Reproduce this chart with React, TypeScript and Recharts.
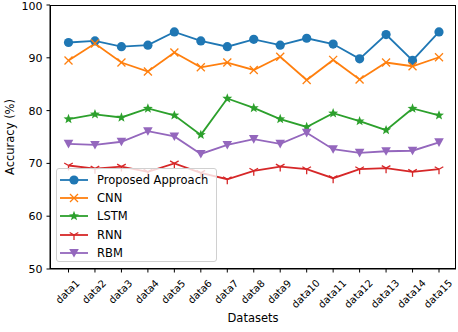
import React from "react";
import {
  LineChart,
  Line,
  XAxis,
  YAxis,
  Label,
} from "recharts";

const categories = [
  "data1", "data2", "data3", "data4", "data5", "data6", "data7", "data8",
  "data9", "data10", "data11", "data12", "data13", "data14", "data15",
];

const proposed = [92.9, 93.2, 92.1, 92.4, 94.9, 93.2, 92.1, 93.5, 92.4, 93.7, 92.6, 89.8, 94.4, 89.5, 94.9];
const cnn = [89.5, 92.7, 89.1, 87.4, 91.0, 88.2, 89.1, 87.7, 90.2, 85.8, 89.6, 85.9, 89.1, 88.4, 90.1];
const lstm = [78.4, 79.3, 78.7, 80.4, 79.1, 75.4, 82.3, 80.5, 78.4, 76.9, 79.5, 78.0, 76.3, 80.4, 79.1];
const rnn = [69.6, 69.0, 69.4, 68.4, 70.0, 68.2, 67.0, 68.6, 69.4, 68.9, 67.2, 68.9, 69.1, 68.4, 68.9];
const rbm = [73.7, 73.5, 74.1, 76.1, 75.1, 71.8, 73.5, 74.6, 73.7, 75.8, 72.7, 72.0, 72.3, 72.4, 74.0];

const yTicks = [50, 60, 70, 80, 90, 100];

type MarkerKind = "circle" | "x" | "star" | "tri" | "vtri";

const series: { key: string; name: string; color: string; marker: MarkerKind; values: number[] }[] = [
  { key: "proposed", name: "Proposed Approach", color: "#1f77b4", marker: "circle", values: proposed },
  { key: "cnn", name: "CNN", color: "#ff7f0e", marker: "x", values: cnn },
  { key: "lstm", name: "LSTM", color: "#2ca02c", marker: "star", values: lstm },
  { key: "rnn", name: "RNN", color: "#d62728", marker: "tri", values: rnn },
  { key: "rbm", name: "RBM", color: "#9467bd", marker: "vtri", values: rbm },
];

const data = categories.map((name, i) => {
  const row: Record<string, any> = { name };
  series.forEach((s) => (row[s.key] = s.values[i]));
  return row;
});

const FONT = "'DejaVu Sans', sans-serif";

// plot box (matches chart margins / axis sizes below)
const PLOT = { left: 50, top: 5, width: 406, height: 264 };

function starPoints(r1: number, r2: number) {
  const pts: string[] = [];
  for (let i = 0; i < 10; i++) {
    const r = i % 2 === 0 ? r1 : r2;
    const a = -Math.PI / 2 + (i * Math.PI) / 5;
    pts.push(`${(r * Math.cos(a)).toFixed(2)},${(r * Math.sin(a)).toFixed(2)}`);
  }
  return pts.join(" ");
}

const MarkerShape = ({ kind, color, cx, cy }: { kind: MarkerKind; color: string; cx: number; cy: number }) => {
  const t = `translate(${cx},${cy})`;
  switch (kind) {
    case "circle":
      return <circle cx={cx} cy={cy} r={4.6} fill={color} />;
    case "x":
      return (
        <g transform={t} stroke={color} strokeWidth={1.3}>
          <line x1={-4} y1={-4} x2={4} y2={4} />
          <line x1={-4} y1={4} x2={4} y2={-4} />
        </g>
      );
    case "star":
      return <polygon transform={t} points={starPoints(5.2, 2.2)} fill={color} />;
    case "tri":
      return (
        <g transform={t} stroke={color} strokeWidth={1.3}>
          <line x1={0} y1={0} x2={0} y2={5} />
          <line x1={0} y1={0} x2={-4.3} y2={-2.5} />
          <line x1={0} y1={0} x2={4.3} y2={-2.5} />
        </g>
      );
    case "vtri":
      return <polygon transform={t} points="-4.8,-4 4.8,-4 0,4.6" fill={color} />;
  }
};

const AngledTick = ({ x, y, payload }: any) => {
  const label = String(payload.value);
  const fs = 10;
  const w = label.length * fs * 0.58;
  const half = ((w + fs * 1.1) * 0.7071) / 2;
  return (
    <text
      transform={`translate(${x - 1},${y + 3 + half}) rotate(-45)`}
      textAnchor="middle"
      dominantBaseline="central"
      fontFamily={FONT}
      fontSize={fs}
      fill="#000"
    >
      {label}
    </text>
  );
};

const ChartLegend = () => (
  <div
    style={{
      position: "absolute",
      left: 56,
      top: 168,
      width: 161,
      height: 94,
      border: "1px solid #d0d0d0",
      borderRadius: 3,
      background: "rgba(255,255,255,0.8)",
      boxSizing: "border-box",
      fontFamily: FONT,
      fontSize: 11.5,
    }}
  >
    {series.map((s, i) => (
      <div
        key={s.key}
        style={{ position: "absolute", left: 2, top: 2 + i * 18.2, height: 18, display: "flex", alignItems: "center" }}
      >
        <svg width={30} height={18}>
          <line x1={1} y1={9} x2={29} y2={9} stroke={s.color} strokeWidth={1.8} />
          <MarkerShape kind={s.marker} color={s.color} cx={15} cy={9} />
        </svg>
        <span style={{ marginLeft: 8, color: "#000" }}>{s.name}</span>
      </div>
    ))}
  </div>
);

export default function App() {
  return (
    <div style={{ position: "absolute", left: 0, top: 0, width: 458, height: 332, background: "#fff" }}>
      <LineChart width={458} height={332} data={data} margin={{ top: PLOT.top, right: 458 - PLOT.left - PLOT.width, left: 0, bottom: 0 }}>
        <XAxis
          dataKey="name"
          height={332 - PLOT.top - PLOT.height}
          padding={{ left: 18.5, right: 17 }}
          interval={0}
          tick={<AngledTick />}
          tickSize={3.5}
          axisLine={{ stroke: "#000", strokeWidth: 1 }}
          tickLine={{ stroke: "#000" }}
        >
          <Label
            content={() => (
              <text x={253} y={318} textAnchor="middle" dominantBaseline="central" fontFamily={FONT} fontSize={11.5} fill="#000">
                Datasets
              </text>
            )}
          />
        </XAxis>
        <YAxis
          width={PLOT.left}
          domain={[50, 100]}
          ticks={yTicks}
          tickSize={3.5}
          tickMargin={4}
          tick={{ fontFamily: FONT, fontSize: 11, fill: "#000" }}
          axisLine={{ stroke: "#000", strokeWidth: 1 }}
          tickLine={{ stroke: "#000" }}
        >
          <Label
            content={() => (
              <text
                transform="translate(10,137) rotate(-90)"
                textAnchor="middle"
                dominantBaseline="central"
                fontFamily={FONT}
                fontSize={11.5}
                fill="#000"
              >
                Accuracy (%)
              </text>
            )}
          />
        </YAxis>
        {series.map((s) => (
          <Line
            key={s.key}
            dataKey={s.key}
            name={s.name}
            stroke={s.color}
            strokeWidth={1.8}
            isAnimationActive={false}
            dot={(p: any) => <MarkerShape key={`${s.key}-${p.index}`} kind={s.marker} color={s.color} cx={p.cx} cy={p.cy} />}
            activeDot={false}
          />
        ))}
      </LineChart>
      <svg
        width={458}
        height={332}
        style={{ position: "absolute", left: 0, top: 0, pointerEvents: "none" }}
      >
        <rect
          x={PLOT.left + 0.5}
          y={PLOT.top + 0.5}
          width={PLOT.width - 1}
          height={PLOT.height - 1}
          fill="none"
          stroke="#000"
          strokeWidth={1}
        />
      </svg>
      <ChartLegend />
    </div>
  );
}
